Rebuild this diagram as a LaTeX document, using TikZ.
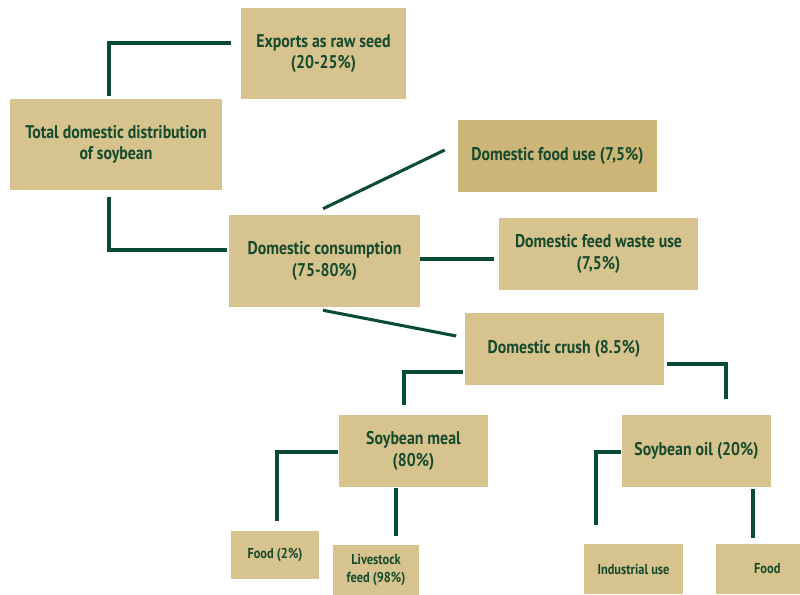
\documentclass[tikz,border=0pt]{standalone}
\usepackage{fontspec}
\setmainfont{PT Sans}[FakeStretch=0.86]
\definecolor{tan}{RGB}{214,195,142}
\definecolor{tandark}{RGB}{205,181,119}
\definecolor{txt}{RGB}{22,74,46}
\definecolor{ln}{RGB}{10,75,55}
\begin{document}
\begin{tikzpicture}[x=0.75pt,y=-0.75pt,
  bx/.style 2 args={draw=none,fill=tan,inner sep=0pt,align=center,text=txt,
     font=\fontsize{13.8}{16}\selectfont\bfseries,
     minimum width=#1*0.75pt,minimum height=#2*0.75pt},
  sm/.style={font=\fontsize{10.8}{13.5}\selectfont\bfseries},
  conn/.style={draw=ln,line width=2.3pt}]
\useasboundingbox (0,0) rectangle (800,594);
\node[bx={165}{91}] (exp) at (323.5,53.5) {Exports as raw seed\\(20-25\%)};
\node[bx={212}{91}] (tot) at (116,144.5) {Total domestic distribution\\of soybean};
\node[bx={199}{72},fill=tandark] (fuse) at (557.5,156) {Domestic food use (7,5\%)};
\node[bx={191}{92}] (cons) at (324.5,261) {Domestic consumption\\(75-80\%)};
\node[bx={199}{72}] (fws) at (598.5,254) {Domestic feed waste use\\(7,5\%)};
\node[bx={199}{72}] (crush) at (564,349) {Domestic crush (8.5\%)};
\node[bx={149}{72}] (meal) at (413.5,451) {Soybean meal\\(80\%)};
\node[bx={149}{72}] (oil) at (696.5,451) {Soybean oil (20\%)};
\node[bx={88}{48},sm] (f2) at (275,555) {Food (2\%)};
\node[bx={86}{50},sm] (live) at (376,570) {Livestock\\feed (98\%)};
\node[bx={99}{50},sm] (ind) at (633.5,569) {Industrial use};
\node[bx={84}{50},sm] (food) at (758,569) {\hspace*{14pt}Food};
\draw[conn] ([shift={(-7,-3)}]tot.north) |- ([shift={(-10,-10.5)}]exp.west);
\draw[conn] ([shift={(-7,7)}]tot.south) |- ([shift={(-2,-11)}]cons.west);
\draw[conn] ([shift={(-1.5,-6)}]cons.north) -- ([shift={(-13,-6)}]fuse.west);
\draw[conn] ([shift={(0,-2)}]cons.east) -- ([shift={(-5,5)}]fws.west);
\draw[conn] ([shift={(-1.5,3)}]cons.south) -- ([shift={(-8,-13)}]crush.west);
\draw[conn] ([shift={(-1,23)}]crush.west) -| ([shift={(-9.5,-10)}]meal.north);
\draw[conn] ([shift={(3.5,15)}]crush.east) -| ([shift={(29.5,-16)}]oil.north);
\draw[conn] ([shift={(-1,1)}]meal.west) -| ([shift={(2,-10)}]f2.north);
\draw[conn] ([shift={(-17.5,1)}]meal.south) -- ([shift={(20,-9)}]live.north);
\draw[conn] ([shift={(-1,1)}]oil.west) -| ([shift={(-37.5,-19)}]ind.north);
\draw[conn] ([shift={(56.5,2)}]oil.south) -- ([shift={(-5,-6)}]food.north);
\end{tikzpicture}
\end{document}
